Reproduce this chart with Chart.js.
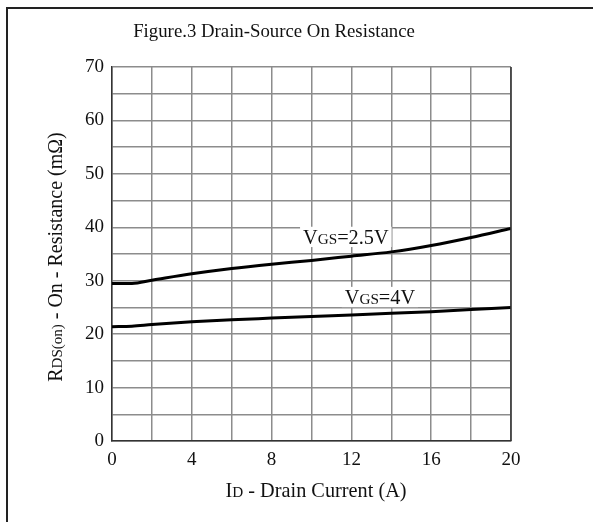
<!DOCTYPE html>
<html>
<head>
<meta charset="utf-8">
<script src="https://cdn.jsdelivr.net/npm/chart.js@4/dist/chart.umd.min.js"></script>
<style>
  html, body { margin: 0; padding: 0; background: #fff; }
  #wrap { position: relative; width: 593px; height: 522px; }
</style>
</head>
<body>
<div id="wrap"><canvas id="c" width="593" height="522"></canvas></div>
<script>
// ---- data ----
const currentA = [0, 1, 2, 4, 6, 8, 10, 12, 14, 16, 18, 20];
const rdsVgs25 = [29.5, 29.5, 30.1, 31.3, 32.3, 33.1, 33.8, 34.6, 35.4, 36.6, 38.1, 39.8];
const rdsVgs4  = [21.4, 21.5, 21.8, 22.3, 22.7, 23.0, 23.3, 23.6, 23.9, 24.2, 24.6, 25.0];
const xTickLabels = [0, 4, 8, 12, 16, 20];
const yTickLabels = [0, 10, 20, 30, 40, 50, 60, 70];
const titleText = "Figure.3 Drain-Source On Resistance";
const xTitleParts = [["I", false], ["D", true], [" - Drain Current (A)", false]];
const yTitleParts = [["R", false], ["DS(on)", true], [" - On - Resistance (m\u03A9)", false]];
const label25Parts = [["V", false], ["GS", true], ["=2.5V", false]];
const label4Parts = [["V", false], ["GS", true], ["=4V", false]];

const FONT = '"Liberation Serif", "Times New Roman", serif';
const TXT = '#111';

function partsWidth(ctx, parts, size) {
  let w = 0;
  for (const [t, sub] of parts) {
    ctx.font = (sub ? size * 0.75 : size) + 'px ' + FONT;
    w += ctx.measureText(t).width;
  }
  return w;
}
function drawParts(ctx, parts, cx, cy, size, bg) {
  const w = partsWidth(ctx, parts, size);
  let x = cx - w / 2;
  if (bg) {
    ctx.fillStyle = '#fff';
    ctx.fillRect(x - 3, cy - size * 0.5, w + 6, size * 1.0);
  }
  ctx.fillStyle = TXT;
  ctx.textBaseline = 'alphabetic';
  ctx.textAlign = 'left';
  const base = cy + size * 0.33;
  for (const [t, sub] of parts) {
    ctx.font = (sub ? size * 0.75 : size) + 'px ' + FONT;
    ctx.fillText(t, x, base + (sub ? size * 0.02 : 0));
    x += ctx.measureText(t).width;
  }
}

const decor = {
  id: 'decor',
  afterDraw(chart) {
    const ctx = chart.ctx;
    const xs = chart.scales.x, ys = chart.scales.y;
    ctx.save();
    // outer frame
    ctx.strokeStyle = '#222';
    ctx.lineWidth = 2;
    ctx.beginPath();
    ctx.moveTo(7, 540); ctx.lineTo(7, 8); ctx.lineTo(600, 8);
    ctx.stroke();
    // title
    ctx.fillStyle = TXT;
    ctx.font = '18.8px ' + FONT;
    ctx.textAlign = 'center';
    ctx.textBaseline = 'middle';
    ctx.fillText(titleText, 274, 32);
    // x title
    drawParts(ctx, xTitleParts, 316, 490, 20.3);
    // y title rotated
    ctx.save();
    ctx.translate(55, 257);
    ctx.rotate(-Math.PI / 2);
    drawParts(ctx, yTitleParts, 0, 0, 20);
    ctx.restore();
    // curve labels
    drawParts(ctx, label25Parts, xs.getPixelForValue(11.72), ys.getPixelForValue(38.2), 20.3, true);
    drawParts(ctx, label4Parts, xs.getPixelForValue(13.43), ys.getPixelForValue(26.95), 20.3, true);
    ctx.restore();
  }
};

new Chart(document.getElementById('c'), {
  type: 'line',
  data: {
    datasets: [
      { label: 'VGS=2.5V', data: currentA.map((x, i) => ({ x, y: rdsVgs25[i] })) },
      { label: 'VGS=4V', data: currentA.map((x, i) => ({ x, y: rdsVgs4[i] })) }
    ].map(d => Object.assign(d, {
      borderColor: '#000', borderWidth: 3, pointRadius: 0,
      tension: 0.4, cubicInterpolationMode: 'monotone', fill: false
    }))
  },
  options: {
    responsive: false,
    animation: false,
    devicePixelRatio: 1,
    layout: { padding: { left: 0, right: 82, top: 67, bottom: 0 } },
    plugins: { legend: { display: false }, tooltip: { enabled: false }, title: { display: false } },
    scales: {
      x: {
        type: 'linear', min: 0, max: 20,
        afterFit(s) { s.height = 81; },
        border: { display: true, color: '#333', width: 1.5 },
        grid: { color: '#8c8c8c', lineWidth: 1.5, drawTicks: false },
        ticks: {
          stepSize: 2, padding: 8, color: TXT, maxRotation: 0, autoSkip: false,
          font: { family: FONT, size: 19 },
          callback: v => xTickLabels.includes(v) ? String(v) : ''
        }
      },
      y: {
        type: 'linear', min: 0, max: 70,
        afterFit(s) { s.width = 112; },
        border: { display: true, color: '#333', width: 1.5 },
        grid: { color: '#8c8c8c', lineWidth: 1.5, drawTicks: false },
        ticks: {
          stepSize: 5, padding: 8, color: TXT, autoSkip: false,
          font: { family: FONT, size: 19 },
          callback: v => yTickLabels.includes(v) ? String(v) : ''
        }
      }
    }
  },
  plugins: [decor, {
    id: 'rightBorder',
    afterDatasetsDraw(chart) {
      const { ctx, chartArea: a } = chart;
      ctx.save();
      ctx.strokeStyle = '#333'; ctx.lineWidth = 1.5;
      ctx.beginPath(); ctx.moveTo(a.right, a.top); ctx.lineTo(a.right, a.bottom); ctx.stroke();
      ctx.restore();
    }
  }]
});
</script>
</body>
</html>
